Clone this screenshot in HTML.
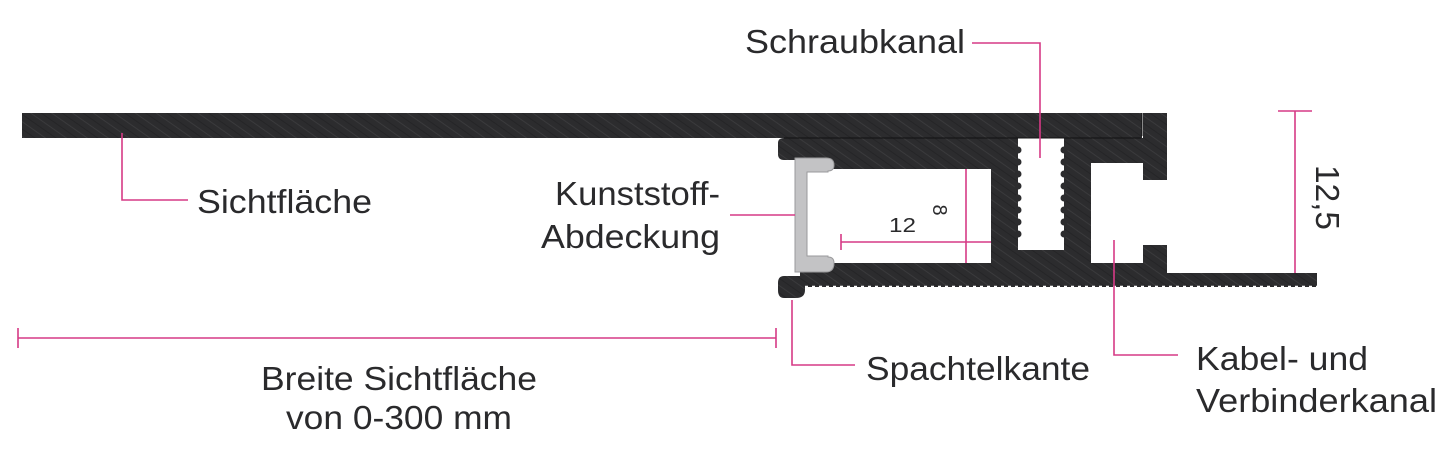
<!DOCTYPE html>
<html><head><meta charset="utf-8"><style>
html,body{margin:0;padding:0;background:#fff;}
svg{display:block;}
text{font-family:"Liberation Sans",Arial,sans-serif;fill:#2a2a2c;font-size:33px;}
</style></head><body>
<svg width="1445" height="459" viewBox="0 0 1445 459" xmlns="http://www.w3.org/2000/svg">
<defs>
<pattern id="br" width="12" height="12" patternUnits="userSpaceOnUse" patternTransform="rotate(35)">
<rect width="12" height="12" fill="#2c2c2e"/>
<line x1="0" y1="3" x2="12" y2="3" stroke="#3a3a3c" stroke-width="1"/>
<line x1="0" y1="9" x2="12" y2="9" stroke="#252527" stroke-width="1"/>
</pattern>
</defs>
<rect x="22" y="113" width="1120" height="25" fill="url(#br)"/>
<path d="M1141 113 H1167 V180 H1143 V113 Z" fill="url(#br)"/>
<path fill="url(#br)" fill-rule="evenodd" d="
M784 138 H1143 V180 H1167 V180 L1167 180 V180 H1143 V163 H1091 V263 H1143 V245 H1167 V273 H1317 V287 H805 V290 Q805 298 796 298 H784 Q778 298 778 290 V283 Q778 276 784 276 H800 V263 H991 V169 H800 V160 H784 Q778 160 778 154 V143 Q778 138 784 138 Z
M1018 138 H1064 V250 H1018 Z"/>
<path d="M1143 180 H1167 V245 H1143 Z" fill="#fff"/>
<line x1="784" y1="138" x2="1141" y2="138" stroke="#111" stroke-width="1"/>
<line x1="1142" y1="113" x2="1142" y2="136" stroke="#111" stroke-width="1"/>
<g fill="#2c2c2e">
<circle cx="1018" cy="150" r="3.5"/><circle cx="1018" cy="162" r="3.5"/><circle cx="1018" cy="174" r="3.5"/><circle cx="1018" cy="186" r="3.5"/><circle cx="1018" cy="198" r="3.5"/><circle cx="1018" cy="210" r="3.5"/><circle cx="1018" cy="222" r="3.5"/><circle cx="1018" cy="234" r="3.5"/>
<circle cx="1064" cy="150" r="3.5"/><circle cx="1064" cy="162" r="3.5"/><circle cx="1064" cy="174" r="3.5"/><circle cx="1064" cy="186" r="3.5"/><circle cx="1064" cy="198" r="3.5"/><circle cx="1064" cy="210" r="3.5"/><circle cx="1064" cy="222" r="3.5"/><circle cx="1064" cy="234" r="3.5"/>
</g>
<line x1="805" y1="287" x2="1317" y2="287" stroke="#fff" stroke-width="2.5" stroke-dasharray="3 4"/>
<path d="M795 158 H826 Q834 158 834 165 Q834 171 828 171 V172 H807 V256 H828 V257 Q834 257 834 263 Q834 272 826 272 H795 Z" fill="#c3c3c5" stroke="#9a9a9c" stroke-width="1"/>
<g stroke="#d63a85" stroke-width="1.6" fill="none">
<path d="M972 43 H1040 V158"/>
<path d="M122 133 V200 H188"/>
<path d="M730 215 H795"/>
<path d="M841 242 H991 M841 234 V250"/>
<path d="M966 169 V263"/>
<path d="M18 338 H776 M18 328 V348 M776 328 V348"/>
<path d="M792 300 V365 H855"/>
<path d="M1114 240 V355 H1178"/>
<path d="M1295 111 V273 M1278 111 H1312"/>
</g>
<text x="745" y="53" textLength="220" lengthAdjust="spacingAndGlyphs">Schraubkanal</text>
<text x="197" y="213" textLength="175" lengthAdjust="spacingAndGlyphs">Sichtfläche</text>
<text x="555" y="205" textLength="165" lengthAdjust="spacingAndGlyphs">Kunststoff-</text>
<text x="541" y="248" textLength="179" lengthAdjust="spacingAndGlyphs">Abdeckung</text>
<text x="889" y="232" style="font-size:20px" textLength="27" lengthAdjust="spacingAndGlyphs">12</text>
<text x="0" y="0" transform="translate(933,210) rotate(90)" text-anchor="middle" style="font-size:20px">8</text>
<text x="261" y="390" textLength="276" lengthAdjust="spacingAndGlyphs">Breite Sichtfläche</text>
<text x="286" y="429" textLength="226" lengthAdjust="spacingAndGlyphs">von 0-300 mm</text>
<text x="866" y="380" textLength="224" lengthAdjust="spacingAndGlyphs">Spachtelkante</text>
<text x="1196" y="370" textLength="172" lengthAdjust="spacingAndGlyphs">Kabel- und</text>
<text x="1196" y="412" textLength="241" lengthAdjust="spacingAndGlyphs">Verbinderkanal</text>
<text x="0" y="0" transform="translate(1316,165) rotate(90)" textLength="65" lengthAdjust="spacingAndGlyphs">12,5</text>
</svg>
</body></html>
